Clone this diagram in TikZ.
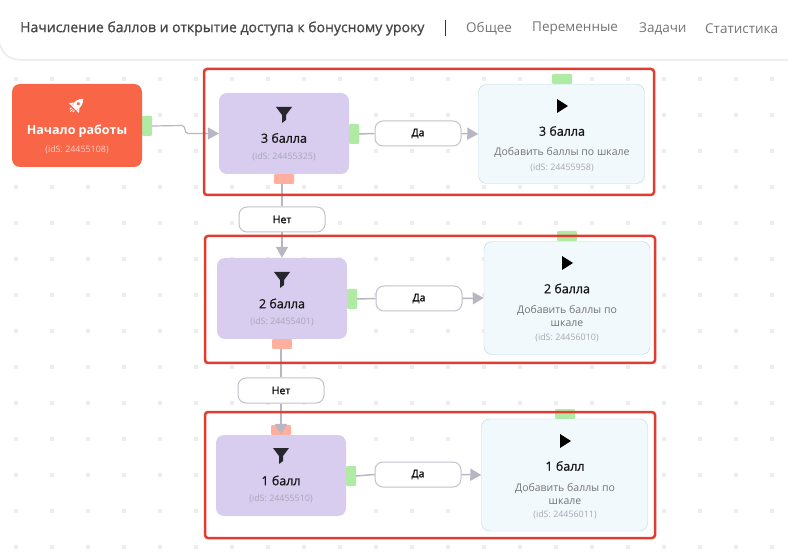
\documentclass[tikz,border=0pt]{standalone}
\usepackage{fontspec}
\setmainfont{Open Sans}
\newfontfamily\semifont[FakeBold=1]{Open Sans}
\usepackage{xcolor}
\usetikzlibrary{arrows.meta, positioning}
\definecolor{startc}{HTML}{F96647}
\definecolor{purplec}{HTML}{D8CCEF}
\definecolor{actionc}{HTML}{F2F9FC}
\definecolor{actionb}{HTML}{B4D9E6}
\definecolor{greenc}{HTML}{B0EBA4}
\definecolor{redc}{HTML}{FFAF9D}
\definecolor{framec}{HTML}{E23B30}
\definecolor{linec}{HTML}{B6B7C2}
\definecolor{dotc}{HTML}{EDEDED}
\definecolor{idc}{HTML}{A8A6B4}
\definecolor{darkc}{HTML}{26262C}
\tikzset{
  box/.style={rectangle, rounded corners=8, inner sep=0},
  port/.style={rectangle, rounded corners=1, inner sep=0},
  yes/.style={box, draw=linec!85, fill=white, line width=1, minimum width=86, minimum height=25, font=\semifont\fontsize{10.5}{12}\selectfont, text=black},
  title/.style={font=\semifont\fontsize{12.5}{14}\selectfont, text=black!90, inner sep=0},
  ids/.style={font=\fontsize{8.9}{10}\selectfont, text=idc, inner sep=0},
  desc/.style={font=\fontsize{10.5}{13}\selectfont, text=black!55, inner sep=0, align=center},
  tab/.style={font=\fontsize{13.5}{15}\selectfont, text=black!55, inner sep=0},
  wire/.style={draw=linec, line width=1.5},
  tip/.style={wire, -{Triangle[length=11, width=12]}},
  frame/.style={draw=framec, line width=2.5, rounded corners=3},
  funnel/.pic={\fill[darkc] (-8,-8) -- (8,-8) -- (2,0) -- (2,5) -- (-2,8) -- (-2,0) -- cycle;},
  play/.pic={\fill[black] (-5,-7) -- (6,0) -- (-5,7) -- cycle;},
  rocket/.pic={
    \fill[white, rotate=-45] (0,-10) .. controls (4,-7) and (4.5,-1) .. (3,3) -- (-3,3) .. controls (-4.5,-1) and (-4,-7) .. cycle;
    \fill[white, rotate=-45] (-4,-1) -- (-7,3) -- (-3.5,3) -- cycle (4,-1) -- (7,3) -- (3.5,3) -- cycle;
    \fill[startc, rotate=-45] (0,-3.5) circle (1.8);
    \draw[white, line width=1, rotate=-45] (-2,4.5) -- (-2,6.5) (0,4.5) -- (0,8) (2,4.5) -- (2,6.5);
  }
}
\begin{document}
\begin{tikzpicture}
[x=1pt, y=-1pt]
\useasboundingbox (0,0) rectangle (788,556);

\foreach \i in {0,...,21}
  \foreach \j in {0,...,13}
    \fill[dotc] (14+36*\i,77+36*\j) rectangle +(4,4);

\draw[black!8, line width=1.5] (0,44) .. controls (2,54) and (10,60) .. (22,60) -- (788,60);
\node[font=\semifont\fontsize{14}{15}\selectfont, text=black!72, inner sep=0, anchor=west] (t0) at (20,28.5) {Начисление баллов и открытие доступа к бонусному уроку};
\node[tab, anchor=west] (t1) at (466,28.5) {Общее};
\node[tab, anchor=west] (t2) at (532,28.5) {Переменные};
\node[tab, anchor=west] (t3) at (639,28.5) {Задачи};
\node[tab, anchor=west] (t4) at (705,28.5) {Статистика};
\draw[black!80, line width=1] (445.5,20) -- (445.5,36);

\node[port, fill=greenc, minimum width=10, minimum height=20] (p1) at (147,126) {};
\node[port, fill=greenc, minimum width=10, minimum height=20] (p2) at (354,134) {};
\node[port, fill=redc, minimum width=20, minimum height=10] (q1) at (284,179) {};
\node[port, fill=greenc, minimum width=20, minimum height=10] (r1) at (562,79) {};
\node[port, fill=greenc, minimum width=10, minimum height=20] (p3) at (352,299) {};
\node[port, fill=redc, minimum width=20, minimum height=10] (q2) at (282,344) {};
\node[port, fill=greenc, minimum width=20, minimum height=10] (r2) at (567,236) {};
\node[port, fill=greenc, minimum width=10, minimum height=20] (p4) at (351,476) {};
\node[port, fill=redc, minimum width=20, minimum height=10] (q3) at (281,430) {};
\node[port, fill=greenc, minimum width=20, minimum height=10] (r3) at (565,414) {};

\node[box, fill=startc, minimum width=130, minimum height=83] (n1) at (77,125.5) {};
\node[box, fill=purplec, minimum width=130, minimum height=81] (f1) at (284,133.5) {};
\node[box, fill=purplec, minimum width=130, minimum height=81] (f2) at (282,298.5) {};
\node[box, fill=purplec, minimum width=130, minimum height=81] (f3) at (281,475.5) {};
\node[box, draw=actionb, fill=actionc, minimum width=166, minimum height=99] (a1) at (561.5,134) {};
\node[box, draw=actionb, fill=actionc, minimum width=166, minimum height=113] (a2) at (567,298) {};
\node[box, draw=actionb, fill=actionc, minimum width=166, minimum height=112] (a3) at (564.5,475) {};

\node[yes] (y1) at (418,133.5) {Да};
\node[yes] (y2) at (419,298.5) {Да};
\node[yes] (y3) at (418,474.5) {Да};
\node[yes] (no1) at (282,219.5) {Нет};
\node[yes] (no2) at (281,390.5) {Нет};

\pic at (76,106) {rocket};
\node[font=\bfseries\fontsize{12.5}{15}\selectfont, text=white, inner sep=0] (n1t) at (77,131) {Начало работы};
\node[ids, text=white!70!startc] (n1i) at (77,150) {(idS: 24455108)};

\pic at (284,115) {funnel};
\node[title] (f1t) at (284,138) {3 балла};
\node[ids] (f1i) at (284,157) {(idS: 24455325)};
\pic at (282,280) {funnel};
\node[title] (f2t) at (282,303.5) {2 балла};
\node[ids] (f2i) at (282,322) {(idS: 24455401)};
\pic at (281,456) {funnel};
\node[title] (f3t) at (281,480.5) {1 балл};
\node[ids] (f3i) at (281,499) {(idS: 24455510)};

\pic at (562,106) {play};
\node[title] (a1t) at (562,131) {3 балла};
\node[desc] (a1d) at (562,152) {Добавить баллы по шкале};
\node[ids] (a1i) at (562,168) {(idS: 24455958)};
\pic at (567,263) {play};
\node[title] (a2t) at (567,288.5) {2 балла};
\node[desc] (a2d) at (567,316) {Добавить баллы по\\шкале};
\node[ids] (a2i) at (567,338) {(idS: 24456010)};
\pic at (565,441) {play};
\node[title] (a3t) at (565,466) {1 балл};
\node[desc] (a3d) at (565,494) {Добавить баллы по\\шкале};
\node[ids] (a3i) at (565,515) {(idS: 24456011)};

\draw[tip, line width=1.2] (p1.east) -- (182,125.5) .. controls (186,125.5) and (184,133.5) .. (188,133.5) -- (f1.west);
\draw[wire] (p2.east) -- (y1.west);
\draw[tip] (y1.east) -- (a1.west);
\draw[wire] (p3.east) -- (y2.west);
\draw[tip] (y2.east) -- (a2.west);
\draw[wire] (p4.east) -- (y3.west);
\draw[tip] (y3.east) -- (a3.west);
\draw[wire] (q1.south -| no1) -- (no1.north);
\draw[tip] (no1.south) -- (f2.north -| no1);
\draw[wire] (q2.south -| no2) -- (no2.north);
\draw[tip] (no2.south) -- (f3.north -| no2);

\node[frame, minimum width=450, minimum height=126, inner sep=0] (b1) at (429,132) {};
\node[frame, minimum width=450, minimum height=127, inner sep=0] (b2) at (430,299.5) {};
\node[frame, minimum width=450, minimum height=126, inner sep=0] (b3) at (430,475) {};

\end{tikzpicture}
\end{document}
